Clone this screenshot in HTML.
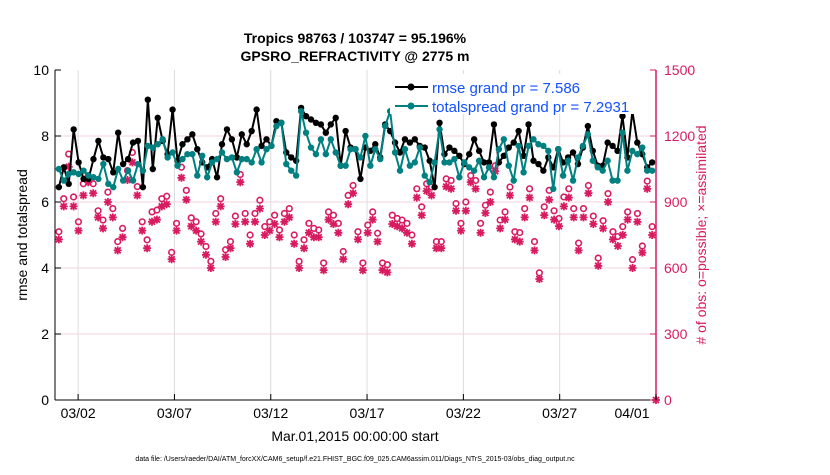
<!DOCTYPE html>
<html><head><meta charset="utf-8"><style>
body{margin:0;background:#fff;}
svg text{font-family:"Liberation Sans",sans-serif;}
</style></head><body>
<svg id="chart" width="830" height="470" xmlns="http://www.w3.org/2000/svg">
<g id="grid"></g>
<g id="marks"></g>
<g id="axes"></g>
<text x="355" y="43" font-size="14" font-weight="bold" text-anchor="middle">Tropics 98763 / 103747 = 95.196%</text>
<text x="355" y="61" font-size="14" font-weight="bold" text-anchor="middle">GPSRO_REFRACTIVITY @ 2775 m</text>
<text transform="translate(27,235) rotate(-90)" font-size="14" text-anchor="middle">rmse and totalspread</text>
<text transform="translate(706,235) rotate(-90)" font-size="14" fill="#d81b60" text-anchor="middle"># of obs: o=possible; ×=assimilated</text>
<text x="355" y="441" font-size="14" text-anchor="middle">Mar.01,2015 00:00:00 start</text>
<text x="355" y="461" font-size="7" text-anchor="middle">data file: /Users/raeder/DAI/ATM_forcXX/CAM6_setup/f.e21.FHIST_BGC.f09_025.CAM6assim.011/Diags_NTrS_2015-03/obs_diag_output.nc</text>
<g>
<rect x="390" y="74" width="264" height="40" fill="#fff"/>
<line x1="395" y1="87" x2="428" y2="87" stroke="#000" stroke-width="2"/><circle cx="411" cy="87" r="3.5"/>
<text x="432" y="93" font-size="15" fill="#1450ff">rmse grand pr = 7.586</text>
<line x1="395" y1="106" x2="428" y2="106" stroke="#008080" stroke-width="2"/><circle cx="411" cy="106" r="3.5" fill="#008080"/>
<text x="432" y="112" font-size="15" fill="#1450ff">totalspread grand pr = 7.2931</text>
</g>
</svg>
<script>
const rmse=[6.45,7.05,6.55,8.2,7.2,6.7,6.7,7.3,7.85,7.35,7.3,6.9,8.1,7.15,7.3,7.8,7.85,6.45,9.1,7.0,8.55,7.85,7.45,8.8,7.25,7.75,7.9,8.05,7.6,7.2,7.05,7.3,6.75,7.75,8.2,7.9,7.35,8.05,7.75,8.15,
8.8,7.7,7.9,7.7,8.45,8.4,7.5,7.35,7.25,8.85,8.6,8.5,8.4,8.35,8.1,8.35,8.55,7.1,8.15,7.65,7.6,6.7,7.65,7.55,7.75,7.35,8.35,8.15,7.8,7.5,7.9,7.8,7.9,7.7,7.65,7.25,6.45,8.4,7.45,7.65,7.55,
7.4,7.15,7.45,7.9,7.55,7.2,7.2,8.35,7.2,7.4,7.65,7.8,8.15,7.4,8.35,7.25,7.15,6.95,7.35,7.05,7.6,7.2,7.35,7.5,7.15,7.65,8.3,7.55,7.1,7.1,7.8,7.7,7.55,8.6,7.35,8.75,7.8,7.45,7.05,7.2];
const spread=[7.0,6.65,6.85,6.9,6.85,6.95,6.8,6.75,6.7,7.15,6.55,6.45,7.0,6.65,6.95,6.65,7.15,6.95,7.7,7.65,7.75,7.9,7.35,7.5,7.1,7.3,7.45,7.45,6.8,7.4,6.75,7.2,7.3,7.5,7.3,7.35,6.9,7.3,7.3,7.2,
7.6,7.2,7.6,7.7,8.3,8.4,7.15,6.95,6.8,8.75,8.1,7.65,7.45,7.9,7.45,7.9,7.5,7.1,7.1,7.6,7.6,7.35,8.0,7.1,7.6,7.3,8.3,8.75,7.5,6.95,7.6,7.1,7.2,7.65,6.8,6.6,7.2,8.2,7.2,7.2,7.3,
6.75,7.2,7.05,6.95,7.25,6.75,7.05,6.75,7.6,7.9,7.1,6.65,7.7,6.9,7.7,7.9,7.75,7.7,7.55,6.4,7.6,6.8,7.25,6.65,7.35,7.7,8.05,7.25,7.05,6.95,7.25,6.65,6.65,8.1,6.95,7.55,7.45,7.65,6.95,6.95];
const possible=[765,915,1118,923,810,983,1020,983,860,818,945,870,720,780,1043,1125,970,810,728,855,863,915,926,671,803,1058,953,828,810,755,698,630,848,915,683,720,836,1025,848,750,848,
908,788,810,840,773,848,870,750,630,728,803,780,773,623,855,840,803,675,930,975,765,623,795,855,758,623,615,840,825,818,803,750,960,878,983,968,720,720,1005,998,893,
803,900,1020,998,803,885,945,1065,818,855,968,765,761,870,960,720,578,878,953,860,825,923,960,870,713,870,975,836,645,815,938,765,743,788,855,638,848,700,995,788];
const assimilated=[730,880,1060,880,770,930,990,940,830,780,900,830,680,740,1000,1080,930,770,690,810,820,880,890,640,770,1010,910,790,770,720,660,600,810,880,650,690,800,990,810,710,810,
870,750,770,800,740,810,830,710,600,690,760,740,740,590,820,800,760,640,890,940,730,590,760,820,720,590,580,800,790,780,760,710,920,840,950,930,690,690,970,960,860,
770,860,990,960,760,850,900,1040,780,820,930,730,720,830,920,680,550,840,910,820,790,880,920,830,680,830,940,800,610,780,900,730,700,750,820,600,810,670,960,750,0];
const xTickLabels=["03/02","03/07","03/12","03/17","03/22","03/27","04/01"];
const xTickDays=[1,6,11,16,21,26,31];
const yTicks=[0,2,4,6,8,10];
const y2Ticks=[0,300,600,900,1200,1500];

const X0=55,X1=656,Y0=400,Y1=70,DMIN=-0.2,DMAX=31;
const xs=d=>X0+(d-DMIN)/(DMAX-DMIN)*(X1-X0);
const ys=v=>Y0-v/10*(Y0-Y1);
const y2s=v=>Y0-v/1500*(Y0-Y1);
const NS="http://www.w3.org/2000/svg";
function mk(tag,attrs,parent){const e=document.createElementNS(NS,tag);for(const k in attrs)e.setAttribute(k,attrs[k]);parent.appendChild(e);return e;}
const grid=document.getElementById('grid'),marks=document.getElementById('marks'),axes=document.getElementById('axes');
const tday=(i,n)=>i*30.8/(n-1);
xTickDays.forEach(d=>{const l=mk('line',{x1:xs(d),x2:xs(d),y1:Y1,y2:Y0,stroke:'#dcdcdc','stroke-width':1},grid);

});
y2Ticks.slice(1,-1).forEach(v=>{const l=mk('line',{x1:X0,x2:X1,y1:y2s(v),y2:y2s(v),stroke:'#f3d3df','stroke-width':1},grid);

});
const pink='#d81b60';
assimilated.forEach((v,i)=>{const x=xs(i===assimilated.length-1?31:tday(i,possible.length)),y=y2s(v);
const g=mk('path',{d:`M${x-4} ${y}H${x+4}M${x} ${y-4}V${y+4}M${x-3} ${y-3}L${x+3} ${y+3}M${x-3} ${y+3}L${x+3} ${y-3}`,stroke:pink,'stroke-width':1.8},marks);

});
possible.forEach((v,i)=>{const c=mk('circle',{cx:xs(tday(i,possible.length)),cy:y2s(v),r:2.8,fill:'none',stroke:pink,'stroke-width':1.6},marks);

});
function series(arr,col,name){
const pts=arr.map((v,i)=>xs(tday(i,arr.length))+','+ys(v)).join(' ');
const pl=mk('polyline',{points:pts,fill:'none',stroke:col,'stroke-width':2},marks);


arr.forEach((v,i)=>{const c=mk('circle',{cx:xs(tday(i,arr.length)),cy:ys(v),r:3.2,fill:col},marks);

});}
series(rmse,'#000','rmse');
series(spread,'#008080','totalspread');
mk('line',{x1:X0,x2:X0,y1:Y1,y2:Y0,stroke:'#000'},axes);
mk('line',{x1:X0,x2:X1,y1:Y0,y2:Y0,stroke:'#000'},axes);
mk('line',{x1:X1,x2:X1,y1:Y1,y2:Y0,stroke:pink,'stroke-width':1.5},axes);
yTicks.forEach(v=>{mk('line',{x1:X0,x2:X0+6,y1:ys(v),y2:ys(v),stroke:'#000'},axes);
const t=mk('text',{x:X0-6,y:ys(v)+5,'font-size':14,'text-anchor':'end'},axes);t.textContent=v;

});
y2Ticks.forEach(v=>{mk('line',{x1:X1-6,x2:X1,y1:y2s(v),y2:y2s(v),stroke:pink},axes);
const t=mk('text',{x:X1+8,y:y2s(v)+5,'font-size':14,fill:pink},axes);t.textContent=v;

});
xTickDays.forEach((d,i)=>{mk('line',{x1:xs(d),x2:xs(d),y1:Y0,y2:Y0-6,stroke:'#000'},axes);
const t=mk('text',{x:xs(d)-(i===6?24:0),y:Y0+18,'font-size':14,'text-anchor':'middle'},axes);t.textContent=xTickLabels[i];

});
</script>
</body></html>
